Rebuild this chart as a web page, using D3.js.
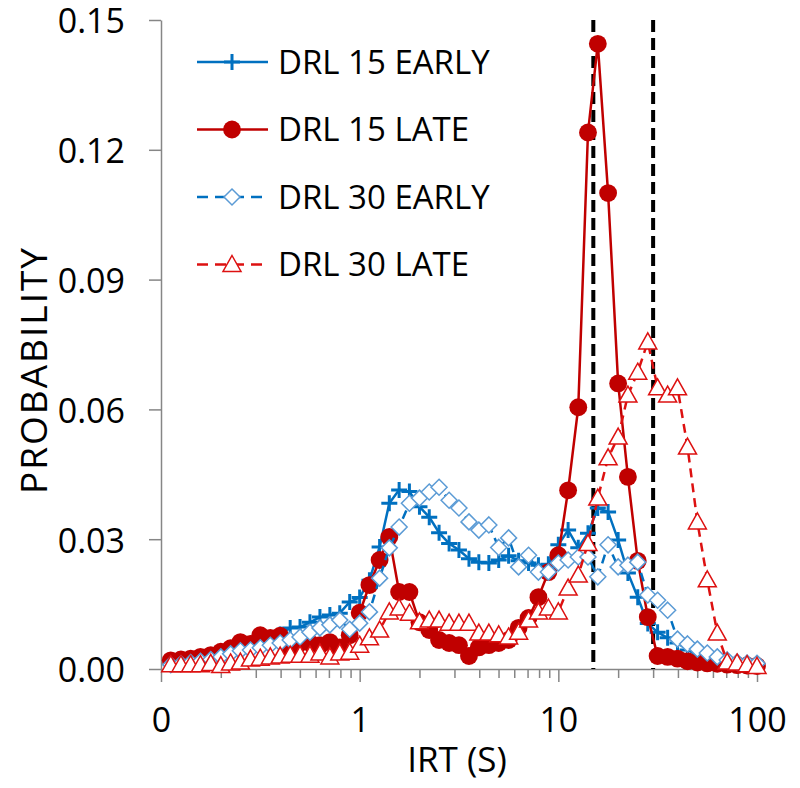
<!DOCTYPE html>
<html>
<head>
<meta charset="utf-8">
<script src="https://cdn.jsdelivr.net/npm/d3@7"></script>
<style>
body { margin: 0; background: #fff; }
text { font-family: "Open Sans", sans-serif; fill: #000; }
</style>
</head>
<body>
<svg id="chart" width="800" height="788"></svg>
<script>
// IRT bin centres (s), 20 bins per decade
var irt = [0.112, 0.126, 0.141, 0.158, 0.178, 0.2, 0.224, 0.251, 0.282, 0.316,
	0.355, 0.398, 0.447, 0.501, 0.562, 0.631, 0.708, 0.794, 0.891, 1.0,
	1.12, 1.26, 1.41, 1.58, 1.78, 2.0, 2.24, 2.51, 2.82, 3.16,
	3.55, 3.98, 4.47, 5.01, 5.62, 6.31, 7.08, 7.94, 8.91, 10,
	11.2, 12.6, 14.1, 15.8, 17.8, 20, 22.4, 25.1, 28.2, 31.6,
	35.5, 39.8, 44.7, 50.1, 56.2, 63.1, 70.8, 79.4, 89.1, 100];

var drl15Early = [0.0012, 0.0015, 0.0018, 0.0022, 0.0027, 0.0033, 0.0040, 0.0047, 0.0055, 0.0062,
	0.0070, 0.0080, 0.0095, 0.0097, 0.0108, 0.0120, 0.0125, 0.0129, 0.0155, 0.0165,
	0.0205, 0.0282, 0.0383, 0.0414, 0.0410, 0.0375, 0.0351, 0.0315, 0.0290, 0.0275,
	0.0255, 0.0247, 0.0245, 0.0252, 0.0262, 0.0250, 0.0245, 0.0240, 0.0242, 0.0287,
	0.0321, 0.0280, 0.0314, 0.0372, 0.0363, 0.0298, 0.0222, 0.0166, 0.0105, 0.0085,
	0.0072, 0.0060, 0.0044, 0.0032, 0.0025, 0.0018, 0.0014, 0.0011, 0.0009, 0.0008];

var drl15Late = [0.0020, 0.0022, 0.0024, 0.0028, 0.0032, 0.0040, 0.0048, 0.0062, 0.0058, 0.0078,
	0.0072, 0.0077, 0.0050, 0.0060, 0.0060, 0.0055, 0.0062, 0.0050, 0.0078, 0.0130,
	0.0194, 0.0252, 0.0305, 0.0178, 0.0178, 0.0108, 0.0090, 0.0067, 0.0060, 0.0055,
	0.0030, 0.0050, 0.0055, 0.0060, 0.0067, 0.0095, 0.0118, 0.0166, 0.0224, 0.0263,
	0.0413, 0.0605, 0.1240, 0.1445, 0.1100, 0.0660, 0.0444, 0.0250, 0.0120, 0.0030,
	0.0028, 0.0024, 0.0018, 0.0015, 0.0013, 0.0012, 0.0010, 0.0009, 0.0008, 0.0007];

var drl30Early = [0.0010, 0.0012, 0.0015, 0.0018, 0.0022, 0.0028, 0.0035, 0.0042, 0.0044, 0.0049,
	0.0055, 0.0060, 0.0067, 0.0074, 0.0085, 0.0095, 0.0102, 0.0113, 0.0092, 0.0106,
	0.0132, 0.0210, 0.0280, 0.0328, 0.0383, 0.0395, 0.0409, 0.0420, 0.0390, 0.0372,
	0.0340, 0.0321, 0.0333, 0.0281, 0.0303, 0.0236, 0.0263, 0.0224, 0.0224, 0.0245,
	0.0252, 0.0259, 0.0259, 0.0213, 0.0287, 0.0236, 0.0240, 0.0247, 0.0171, 0.0159,
	0.0136, 0.0069, 0.0058, 0.0046, 0.0037, 0.0028, 0.0021, 0.0016, 0.0014, 0.0013];

var drl30Late = [0.0010, 0.0010, 0.0010, 0.0010, 0.0013, 0.0008, 0.0014, 0.0016, 0.0023, 0.0025,
	0.0028, 0.0030, 0.0032, 0.0032, 0.0032, 0.0037, 0.0028, 0.0037, 0.0039, 0.0055,
	0.0072, 0.0090, 0.0132, 0.0141, 0.0129, 0.0109, 0.0113, 0.0113, 0.0106, 0.0106,
	0.0106, 0.0083, 0.0083, 0.0079, 0.0074, 0.0085, 0.0113, 0.0132, 0.0141, 0.0132,
	0.0187, 0.0217, 0.0290, 0.0395, 0.0488, 0.0536, 0.0633, 0.0686, 0.0756, 0.0650,
	0.0633, 0.0650, 0.0513, 0.0340, 0.0206, 0.0083, 0.0016, 0.0014, 0.0010, 0.0006];

var seriesNames = ["DRL 15 EARLY", "DRL 15 LATE", "DRL 30 EARLY", "DRL 30 LATE"];
var yTicks = [0, 0.03, 0.06, 0.09, 0.12, 0.15];
var xMajor = [0.1, 1, 10, 100];
var xLabels = ["0", "1", "10", "100"];
var xMinor = [0.2, 0.3, 0.4, 0.5, 0.6, 0.7, 0.8, 0.9, 2, 3, 4, 5, 6, 7, 8, 9, 20, 30, 40, 50, 60, 70, 80, 90];
var criterion = [15, 30];

var plotLeft = 161, plotRight = 757, plotTop = 20, plotBottom = 669;

var svg = d3.select("#chart");

var x = d3.scaleLog().domain([0.1, 100]).range([plotLeft, plotRight]);
var y = d3.scaleLinear().domain([0, 0.15]).range([plotBottom, plotTop]);

// marker shapes
var markers = {
	plus: "M-8,0H8M0,-8V8",
	circle: d3.symbol().type(d3.symbolCircle).size(250)(),
	diamond: "M0,-8L8,0L0,8L-8,0Z",
	triangle: "M0,-9L9,7L-9,7Z"
};

var series = [
	{ name: seriesNames[0], values: drl15Early, line: "#0070c0", dash: null, marker: "plus", mStroke: "#0070c0", mFill: "none", mWidth: 3 },
	{ name: seriesNames[1], values: drl15Late, line: "#c00000", dash: null, marker: "circle", mStroke: "none", mFill: "#c00000", mWidth: 0 },
	{ name: seriesNames[2], values: drl30Early, line: "#0070c0", dash: "9,6", marker: "diamond", mStroke: "#5b9bd5", mFill: "#fff", mWidth: 1.5 },
	{ name: seriesNames[3], values: drl30Late, line: "#dd1111", dash: "9,6", marker: "triangle", mStroke: "#dd1111", mFill: "#fff", mWidth: 1.5 }
];

// axes
var yAxis = svg.append("g")
	.attr("transform", "translate(" + plotLeft + ",0)")
	.call(d3.axisLeft(y).tickValues(yTicks).tickFormat(d3.format(".2f")).tickSize(12).tickSizeOuter(0).tickPadding(24));
yAxis.selectAll("text").style("font-size", "34px").attr("dy", "0.38em");

var xMinorAxis = svg.append("g")
	.attr("transform", "translate(0," + plotBottom + ")")
	.call(d3.axisBottom(x).tickValues(xMinor).tickFormat("").tickSize(9).tickSizeOuter(0));
xMinorAxis.select(".domain").remove();

var xAxis = svg.append("g")
	.attr("transform", "translate(0," + plotBottom + ")")
	.call(d3.axisBottom(x).tickValues(xMajor).tickFormat(function(d, i) { return xLabels[i]; }).tickSize(13).tickSizeOuter(0).tickPadding(26));
xAxis.selectAll("text").style("font-size", "34px");

svg.selectAll(".domain, .tick line").attr("stroke", "#868686").attr("stroke-width", 1.5);

// axis titles
svg.append("text")
	.attr("x", 457)
	.attr("y", 772)
	.attr("text-anchor", "middle")
	.style("font-size", "35px")
	.text("IRT (S)");

svg.append("text")
	.attr("transform", "translate(47,370) rotate(-90)")
	.attr("text-anchor", "middle")
	.style("font-size", "37px")
	.style("letter-spacing", "2px")
	.text("PROBABILITY");

// criterion lines
svg.selectAll(".crit")
	.data(criterion)
	.enter()
	.append("line")
	.attr("class", "crit")
	.attr("x1", function(d) { return x(d); })
	.attr("x2", function(d) { return x(d); })
	.attr("y1", plotTop)
	.attr("y2", plotBottom)
	.attr("stroke", "#000")
	.attr("stroke-width", 4)
	.attr("stroke-dasharray", "12,6");

var line = d3.line()
	.x(function(d) { return x(d[0]); })
	.y(function(d) { return y(d[1]); });

series.forEach(function(s) {
	var pts = irt.map(function(v, i) { return [v, s.values[i]]; });
	var g = svg.append("g");
	g.append("path")
		.datum(pts)
		.attr("d", line)
		.attr("fill", "none")
		.attr("stroke", s.line)
		.attr("stroke-width", 2.5)
		.attr("stroke-dasharray", s.dash);
	g.selectAll(".m")
		.data(pts)
		.enter()
		.append("path")
		.attr("transform", function(d) { return "translate(" + x(d[0]) + "," + y(d[1]) + ")"; })
		.attr("d", markers[s.marker])
		.attr("fill", s.mFill)
		.attr("stroke", s.mStroke)
		.attr("stroke-width", s.mWidth);
});

// legend
var legend = svg.append("g").attr("class", "legend");
var legendTop = 62, legendStep = 67.5;

series.forEach(function(s, i) {
	var ly = legendTop + i * legendStep;
	legend.append("line")
		.attr("x1", 197).attr("x2", 268)
		.attr("y1", ly).attr("y2", ly)
		.attr("stroke", s.line)
		.attr("stroke-width", 2.5)
		.attr("stroke-dasharray", s.dash ? "11,7" : null);
	legend.append("path")
		.attr("transform", "translate(232," + ly + ")")
		.attr("d", markers[s.marker])
		.attr("fill", s.mFill)
		.attr("stroke", s.mStroke)
		.attr("stroke-width", s.mWidth);
	legend.append("text")
		.attr("x", 278)
		.attr("y", ly)
		.attr("dy", "0.36em")
		.style("font-size", "33px")
		.text(s.name);
});
</script>
</body>
</html>
